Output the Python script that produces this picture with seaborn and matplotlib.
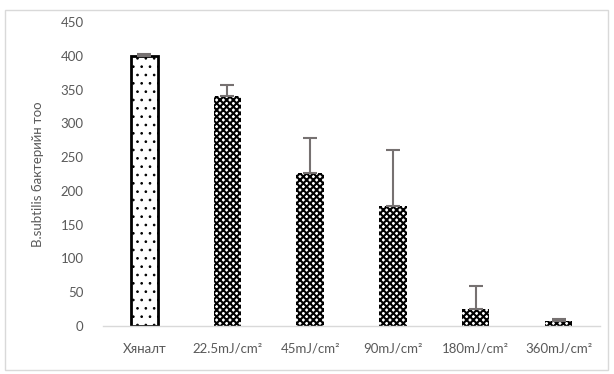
import numpy as np
import pandas as pd
import matplotlib
matplotlib.use("Agg")
import matplotlib.pyplot as plt
import seaborn as sns
from matplotlib.patches import Rectangle

categories = ["Хяналт", "22.5mJ/cm²", "45mJ/cm²", "90mJ/cm²", "180mJ/cm²", "360mJ/cm²"]
counts = [400, 340, 226, 177, 25, 7]
errors = [3, 17, 53, 83, 34, 4]

sns.set_style("white")
plt.rcParams['font.family'] = ['Lato', 'DejaVu Sans']

df = pd.DataFrame({"category": categories, "count": counts})

fig = plt.figure(figsize=(6.14, 3.74), dpi=100)
ax = fig.add_axes([103 / 614, 1 - 326 / 374, 497 / 614, 304 / 374])

sns.barplot(data=df, x="category", y="count", ax=ax, width=0.33,
            color="white", edgecolor="black", linewidth=0, errorbar=None)

for i, p in enumerate(ax.patches):
    if i == 0:
        p.set_hatch("..")
        p.set_linewidth(2)
        p.set_edgecolor("black")
        p.set_hatch_linewidth(0.7)
    else:
        p.set_facecolor("white")
        p.set_hatch("xxxxx")
        p.set_edgecolor("black")
        p.set_linewidth(0)
        p.set_hatch_linewidth(1.5)

ax.errorbar(np.arange(len(categories)), counts, yerr=[np.zeros(len(errors)), errors],
            fmt="none", ecolor="#767171", elinewidth=1.5, capsize=5, capthick=1.5)

ax.set_ylim(0, 450)
ax.set_yticks(range(0, 451, 50))
ax.set_xlim(-0.5, len(categories) - 0.5)
ax.set_xlabel("")
ax.set_ylabel("B.subtilis бактерийн тоо", color="#595959", fontsize=9.5, labelpad=12)
ax.tick_params(axis="y", colors="#595959", labelsize=9.5, length=0, pad=14)
ax.tick_params(axis="x", colors="#595959", labelsize=9.5, length=0, pad=12)
for s in ["top", "right", "left"]:
    ax.spines[s].set_visible(False)
ax.spines["bottom"].set_color("#D9D9D9")
ax.spines["bottom"].set_linewidth(1)

fig.patches.append(Rectangle((5 / 614, 4 / 374), 603 / 614, 360 / 374, transform=fig.transFigure,
                             fill=False, edgecolor="#D9D9D9", linewidth=1))

fig.savefig("out.png", dpi=100)
